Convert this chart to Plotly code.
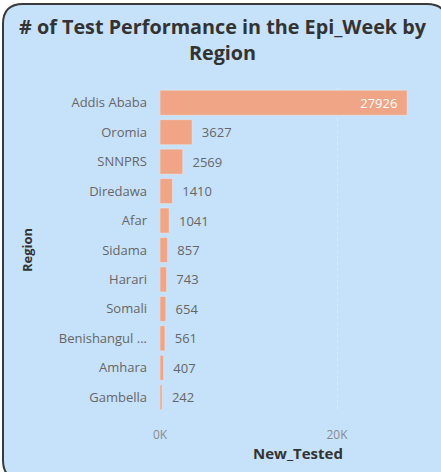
import plotly.graph_objects as go

regions = ["Addis Ababa", "Oromia", "SNNPRS", "Diredawa", "Afar", "Sidama",
           "Harari", "Somali", "Benishangul ...", "Amhara", "Gambella"]
new_tested = [27926, 3627, 2569, 1410, 1041, 857, 743, 654, 561, 407, 242]
tick_vals = [0, 20000]
tick_text = ["0K", "20K"]

W, H = 441, 472
L, R, T, B = 160, 5, 88, 60
PW, PH = W - L - R, H - T - B

def px(x):
    return (x - L) / PW

def py(y):
    return (H - B - y) / PH

def rounded_rect(x0, y0, x1, y1, r):
    pts = [
        f"M {px(x0 + r)},{py(y0)}",
        f"L {px(x1 - r)},{py(y0)}",
        f"Q {px(x1)},{py(y0)} {px(x1)},{py(y0 + r)}",
        f"L {px(x1)},{py(y1 - r)}",
        f"Q {px(x1)},{py(y1)} {px(x1 - r)},{py(y1)}",
        f"L {px(x0 + r)},{py(y1)}",
        f"Q {px(x0)},{py(y1)} {px(x0)},{py(y1 - r)}",
        f"L {px(x0)},{py(y0 + r)}",
        f"Q {px(x0)},{py(y0)} {px(x0 + r)},{py(y0)}",
        "Z",
    ]
    return " ".join(pts)

vmax = max(new_tested)
texts = [(f"{v}  " if v == vmax else f"  {v}") for v in new_tested]
positions = ["inside" if v == vmax else "outside" for v in new_tested]
text_colors = ["white" if v == vmax else "#666666" for v in new_tested]

fig = go.Figure(go.Bar(
    y=regions, x=new_tested, orientation="h",
    marker=dict(color="#F0A586"),
    text=texts, textposition=positions, insidetextanchor="end",
    textfont=dict(color=text_colors, size=13, family="Open Sans"),
    cliponaxis=False,
))

fig.update_layout(
    width=W, height=H,
    margin=dict(l=L, r=R, t=T, b=B),
    paper_bgcolor="white", plot_bgcolor="rgba(0,0,0,0)",
    showlegend=False, bargap=0.15,
    font=dict(family="Open Sans", color="#666666"),
    xaxis=dict(range=[0, PW / 8.85 * 1000], tickvals=tick_vals, ticktext=tick_text,
               showgrid=True, gridcolor="rgba(235,240,245,0.55)", griddash="dot",
               gridwidth=1, zeroline=False, showline=False,
               tickfont=dict(size=12, color="#8a8a8a"), ticklabelstandoff=14,
               fixedrange=True),
    yaxis=dict(autorange="reversed", showgrid=False, zeroline=False,
               tickfont=dict(size=13, color="#666666"), ticklabelstandoff=12,
               fixedrange=True),
    shapes=[dict(type="path", xref="paper", yref="paper",
                 path=rounded_rect(3, 4, 447, 480, 20),
                 fillcolor="#C6E2FA", line=dict(color="#3a3a3a", width=2),
                 layer="below")],
    annotations=[
        dict(text="<b># of Test Performance in the Epi_Week by<br>Region</b>",
             x=px(223), y=py(39), xref="paper", yref="paper", showarrow=False,
             font=dict(size=19.8, color="#333333", family="Open Sans"),
             xanchor="center", yanchor="middle"),
        dict(text="<b>Region</b>", x=px(27), y=py(250), xref="paper", yref="paper",
             showarrow=False, textangle=-90,
             font=dict(size=13, color="#333333", family="Open Sans"),
             xanchor="center", yanchor="middle"),
        dict(text="<b>New_Tested</b>", x=px(298), y=py(453), xref="paper", yref="paper",
             showarrow=False,
             font=dict(size=15, color="#333333", family="Open Sans"),
             xanchor="center", yanchor="middle"),
    ],
)

fig.write_html("out.html", config={"displayModeBar": False},
               post_script="document.body.style.margin='0';document.body.style.overflow='hidden';")
